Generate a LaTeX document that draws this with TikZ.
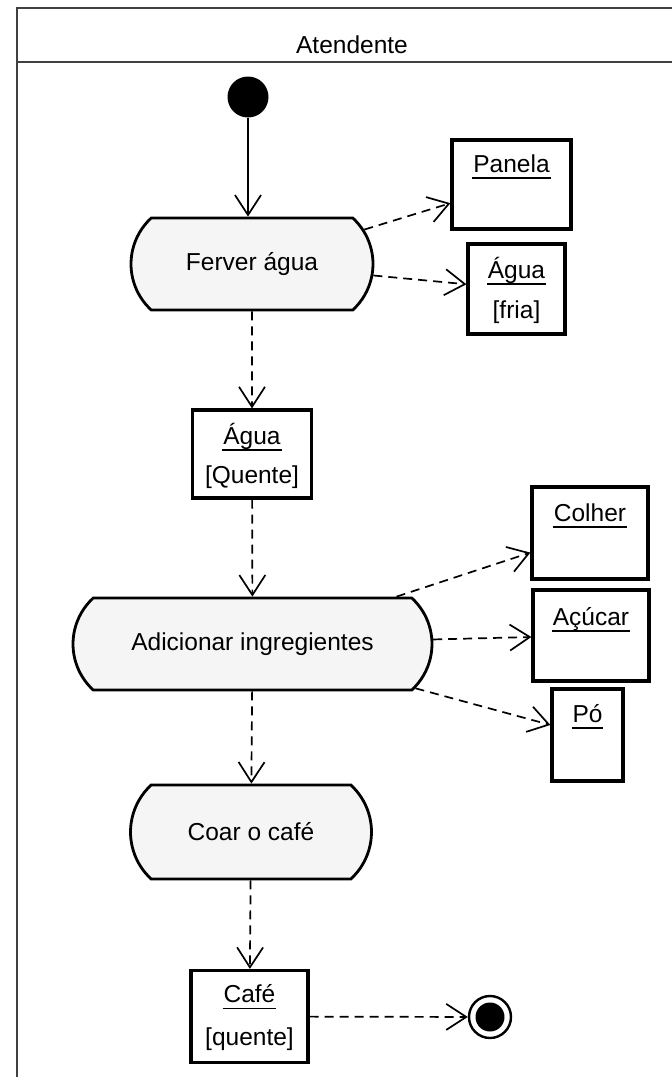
\documentclass[tikz,border=0pt]{standalone}
\usepackage{fontspec}
\setmainfont{Liberation Sans}
\usetikzlibrary{shapes.misc,arrows.meta,calc}

\newcommand\actfont{\fontsize{24.5}{29}\selectfont}
% underlined object name, the rule sits at a fixed depth below the baseline
\newcommand\objname[1]{\setbox0\hbox{#1}\rlap{\hspace{-1pt}\rule[-6.5pt]{\dimexpr\wd0+2pt\relax}{1.8pt}}\box0}

\tikzset{
  act/.style={rounded rectangle, rounded rectangle arc length=95, draw,
    line width=2.8pt, fill=black!4, font=\actfont, inner sep=0pt},
  obj/.style={rectangle, draw, line width=3.2pt, inner sep=0pt},
  lbl/.style={anchor=base, inner sep=0pt, font=\actfont},
  flow/.style={line width=1.7pt,
    -{Straight Barb[length=20pt,width=26pt,line width=1.7pt]}},
  dflow/.style={flow, dash pattern=on 9pt off 6pt},
  lane/.style={line width=2.4pt, draw=black!75},
}

\begin{document}
\begin{tikzpicture}[x=1pt,y=-1pt]
  \useasboundingbox (0,0) rectangle (672,1077);

  % swimlane frame
  \coordinate (lt) at (17,8);
  \coordinate (rt) at (672,8);
  \coordinate (lh) at (17,62);
  \coordinate (rh) at (672,62);
  \coordinate (lb) at (17,1077);
  \draw[lane] (rt) -- (lt) -- (lb);
  \draw[lane] (lh) -- (rh);
  \node[lbl] (lane) at (352,53) {Atendente};

  % initial and final nodes
  \node[circle, fill=black, minimum size=41pt, inner sep=0pt] (start) at (248,97) {};
  \node[circle, draw, line width=2.4pt, minimum size=42pt, inner sep=0pt,
        path picture={\fill (path picture bounding box.center) circle (14.5pt);}]
        (fim) at (490,1017) {};

  % actions
  \node[act, minimum width=242pt, minimum height=92pt] (ferver) at (252,264) {Ferver água};
  \node[act, minimum width=359pt, minimum height=92pt] (adic) at (252.5,644) {Adicionar ingregientes};
  \node[act, minimum width=241pt, minimum height=94pt] (coar) at (251,832) {Coar o café};

  % object nodes
  \node[obj, minimum width=119pt, minimum height=89pt] (panela) at (511.5,184.5) {};
  \node[obj, minimum width=97pt,  minimum height=90pt] (aguaF) at (516.5,289) {};
  \node[obj, minimum width=119pt, minimum height=88pt] (aguaQ) at (252,454) {};
  \node[obj, minimum width=116pt, minimum height=92pt] (colher) at (590,533) {};
  \node[obj, minimum width=116pt, minimum height=91pt] (acucar) at (591,635.5) {};
  \node[obj, minimum width=71pt,  minimum height=92pt] (po) at (587.5,735) {};
  \node[obj, minimum width=117pt, minimum height=92pt] (cafe) at (249.5,1016.5) {};

  % object names and states
  \node[lbl] (panela-n) at ($(panela.north)+(0,34)$) {\objname{Panela}};
  \node[lbl] (aguaF-n) at ($(aguaF.north)+(0,36)$) {\objname{Água}};
  \node[lbl] (aguaF-s) at ($(aguaF.north)+(0,76)$) {[fria]};
  \node[lbl] (aguaQ-n) at ($(aguaQ.north)+(0,36)$) {\objname{Água}};
  \node[lbl] (aguaQ-s) at ($(aguaQ.north)+(0,75)$) {[Quente]};
  \node[lbl] (colher-n) at ($(colher.north)+(0,36)$) {\objname{Colher}};
  \node[lbl] (acucar-n) at ($(acucar.north)+(0,37)$) {\objname{Açúcar}};
  \node[lbl] (po-n) at ($(po.north)+(0,35)$) {\objname{Pó}};
  \node[lbl] (cafe-n) at ($(cafe.north)+(0,34)$) {\objname{Café}};
  \node[lbl] (cafe-s) at ($(cafe.north)+(0,77)$) {[quente]};

  % control flow
  \draw[flow] (start) -- (start |- ferver.north);

  % object flows
  \draw[dflow] (ferver) -- (panela);
  \draw[dflow] (ferver) -- (aguaF);
  \draw[dflow] (ferver) -- (aguaQ);
  \draw[dflow] (aguaQ) -- (adic);
  \draw[dflow] (adic) -- (colher);
  \draw[dflow] (adic) -- (acucar);
  \draw[dflow] (adic) -- (po);
  \draw[dflow] (adic) -- (coar);
  \draw[dflow] (coar) -- (cafe);
  \draw[dflow] (cafe) -- (fim);
\end{tikzpicture}
\end{document}
